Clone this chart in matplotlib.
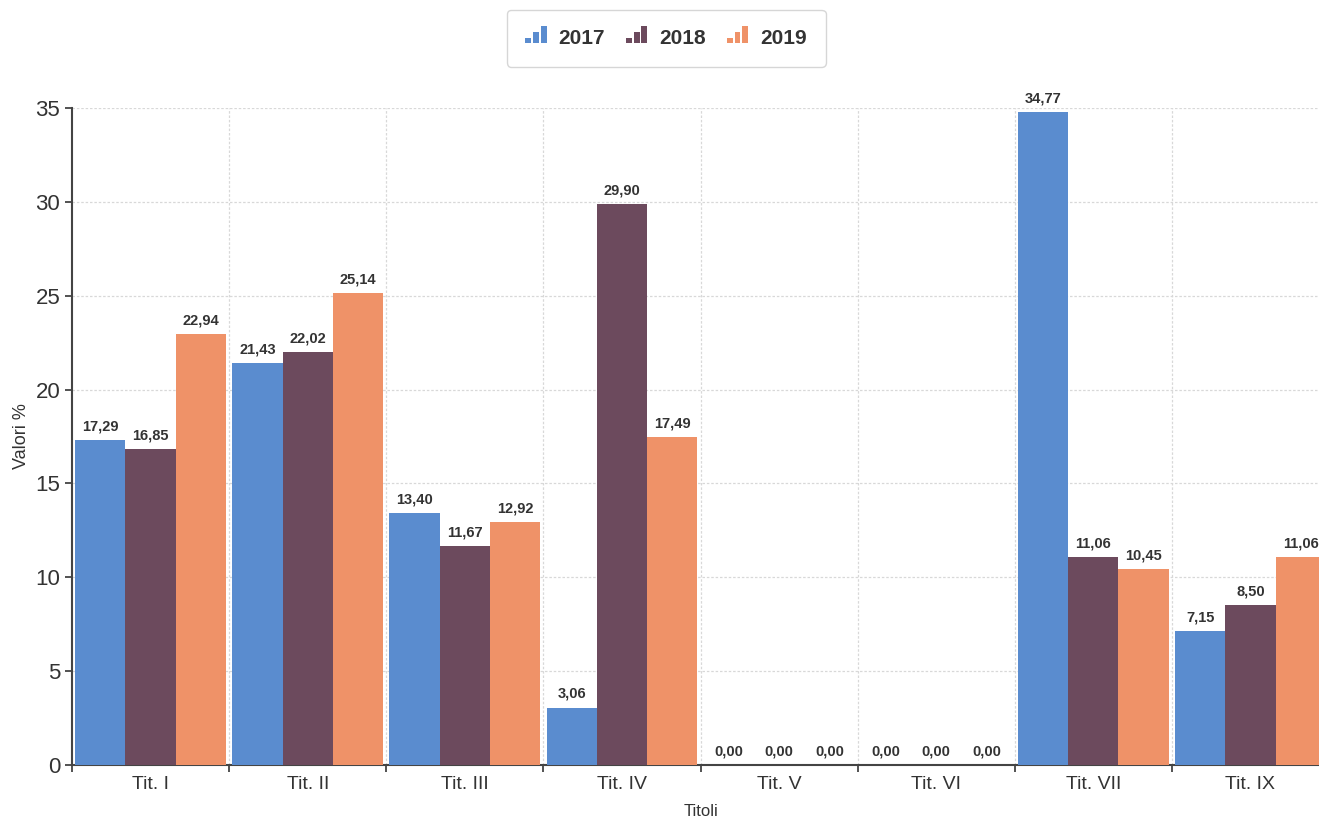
import matplotlib
matplotlib.use("Agg")
import matplotlib.pyplot as plt
import numpy as np
from matplotlib.legend_handler import HandlerBase
from matplotlib.patches import Rectangle

plt.rcParams['font.family'] = ['Liberation Sans', 'DejaVu Sans']

titoli = ["Tit. I", "Tit. II", "Tit. III", "Tit. IV", "Tit. V", "Tit. VI", "Tit. VII", "Tit. IX"]
anni = ["2017", "2018", "2019"]
val_2017 = [17.29, 21.43, 13.40, 3.06, 0.00, 0.00, 34.77, 7.15]
val_2018 = [16.85, 22.02, 11.67, 29.90, 0.00, 0.00, 11.06, 8.50]
val_2019 = [22.94, 25.14, 12.92, 17.49, 0.00, 0.00, 10.45, 11.06]
colori = ["#5a8ccf", "#6c4a5d", "#ef9268"]

testo = "#333333"


class BarIcon(HandlerBase):
    # icona a tre barrette crescenti come nella legenda originale
    def create_artists(self, legend, orig_handle, xd, yd, w, h, fontsize, trans):
        col = orig_handle.get_facecolor()
        bw = w / 3.6
        gap = bw / 3.0
        hs = [0.35, 0.7, 1.05]
        arts = []
        for i, hh in enumerate(hs):
            r = Rectangle((xd + i * (bw + gap), yd), bw, h * hh,
                          facecolor=col, edgecolor="none", transform=trans)
            arts.append(r)
        return arts


fig = plt.figure(figsize=(13.19, 8.19), dpi=100)
ax = fig.add_axes([0.0546, 0.066, 0.953, 0.802])

x = np.arange(len(titoli))
w = 0.32
serie = [val_2017, val_2018, val_2019]
handles = []
for i, (vals, col) in enumerate(zip(serie, colori)):
    pos = x + (i - 1) * w
    b = ax.bar(pos, vals, width=w, color=col, edgecolor="none", zorder=3, label=anni[i])
    handles.append(b.patches[0])
    for p, v in zip(pos, vals):
        ax.text(p, v + 0.35, f"{v:.2f}".replace(".", ","), ha="center", va="bottom",
                fontsize=10.5, fontweight="bold", color=testo, zorder=4)

ax.set_xlim(-0.5, len(titoli) - 0.5)
ax.set_ylim(0, 35)
ax.set_yticks(np.arange(0, 36, 5))
ax.set_xticks(x)
ax.set_xticklabels(titoli)
ax.set_xticks(np.arange(-0.5, len(titoli), 1), minor=True)

ax.grid(False)
for yy in np.arange(5, 36, 5):
    ax.axhline(yy, color="#d8d8d8", lw=0.9, ls=(0, (2, 1.5)), zorder=1)
for xx in np.arange(0.5, len(titoli), 1):
    ax.axvline(xx, color="#d8d8d8", lw=0.9, ls=(0, (2, 1.5)), zorder=1)

for s in ["top", "right"]:
    ax.spines[s].set_visible(False)
ax.spines["left"].set_color("#444444")
ax.spines["bottom"].set_color("#444444")
ax.spines["left"].set_linewidth(1.5)
ax.spines["bottom"].set_linewidth(1.5)

ax.tick_params(axis="x", which="major", length=0, labelsize=14, labelcolor=testo, pad=8)
ax.tick_params(axis="x", which="minor", length=5, color="#444444", width=1.3)
ax.tick_params(axis="y", length=5, color="#444444", width=1.3, labelsize=16, labelcolor=testo)

ax.set_xlabel("Titoli", fontsize=12, color=testo, labelpad=8)
ax.set_ylabel("Valori %", fontsize=13, color=testo, labelpad=4)

leg = fig.legend(handles, anni, loc="upper center", bbox_to_anchor=(0.505, 0.993), ncol=3,
                 handler_map={h: BarIcon() for h in handles},
                 frameon=True, fancybox=True, edgecolor="#cccccc",
                 prop={"weight": "bold", "size": 15}, handlelength=1.0, handleheight=0.8,
                 columnspacing=1.0, handletextpad=0.6, borderpad=0.9, borderaxespad=0.2)
for t in leg.get_texts():
    t.set_color(testo)

fig.savefig("out.png", dpi=100)
